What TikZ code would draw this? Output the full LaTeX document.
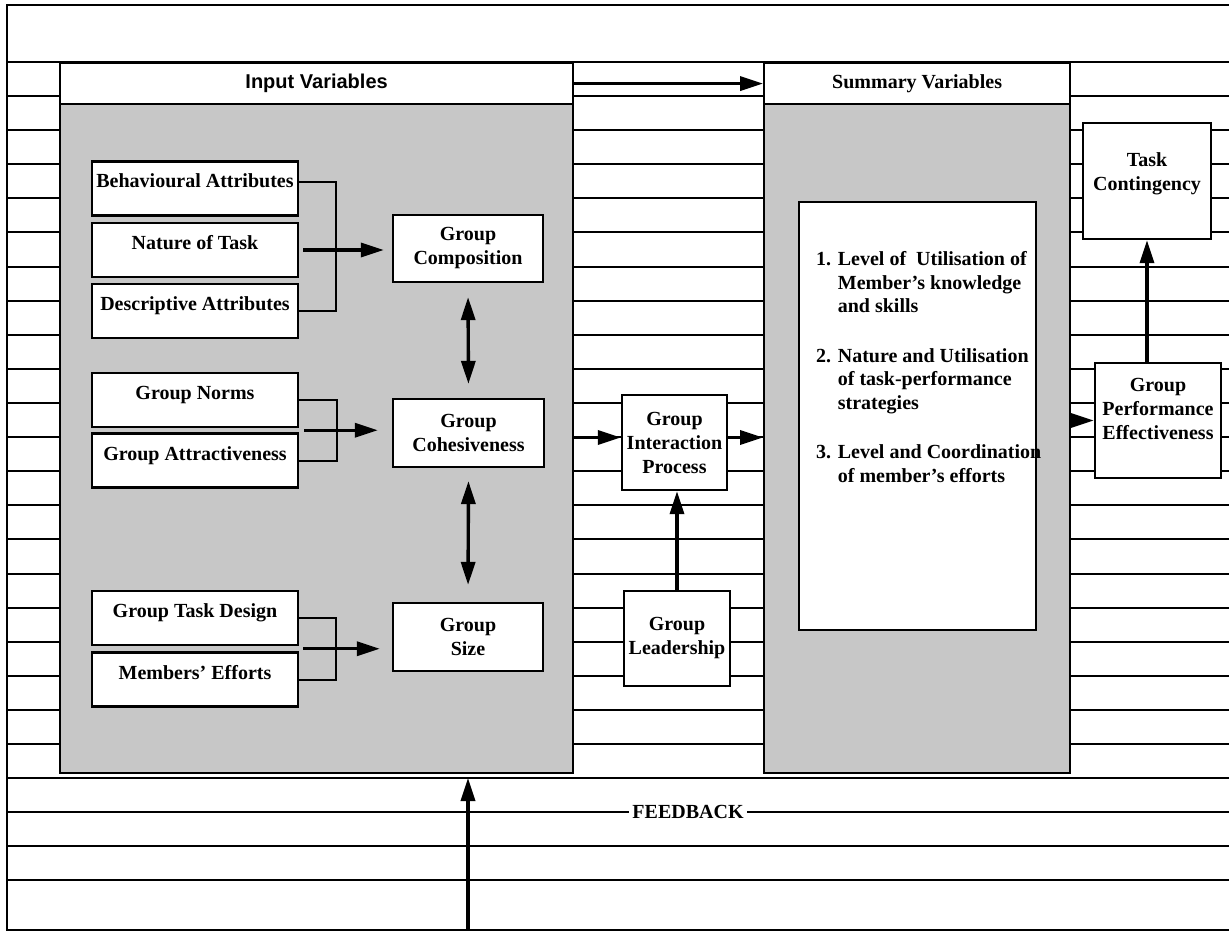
\documentclass[tikz,border=0pt]{standalone}
\usepackage{fontspec}
\setmainfont{Liberation Serif}
\setsansfont{Liberation Sans}
\usetikzlibrary{arrows.meta,calc,positioning}

\tikzset{
  rowline/.style={line width=2pt},
  outline/.style={line width=2.2pt},
  panel/.style={draw, line width=2.2pt, fill=black!22, anchor=north west, inner sep=0pt, minimum height=710pt},
  headbox/.style={draw, line width=2.2pt, fill=white, anchor=north west, inner sep=0pt, minimum height=41pt},
  attrbox/.style={draw, line width=2.2pt, fill=white, minimum width=206pt, minimum height=54pt,
    inner xsep=3pt, inner ysep=7pt, text height=19pt, text depth=20pt},
  varbox/.style={draw, line width=2.2pt, fill=white, align=center, inner sep=3pt},
  flowarrow/.style={line width=3.4pt, -{Triangle[length=23pt,width=14pt]}},
  twoway/.style={line width=3.4pt, {Triangle[length=23pt,width=14pt]}-{Triangle[length=23pt,width=14pt]}},
}

\begin{document}
\begin{tikzpicture}[x=1pt, y=-1pt, font=\fontsize{20}{24}\selectfont\bfseries]
\useasboundingbox (0,0) rectangle (1229,933);

% ruled background
\draw[outline] (1229,5) -- (7,5) -- (7,930) -- (1229,930);
\draw[outline] (7,62) -- (1229,62);
\foreach \k in {1,...,20}{
  \pgfmathsetmacro{\yy}{62+34.1*\k}
  \draw[rowline] (7,\yy) -- (59,\yy);
  \draw[rowline] (572,\yy) -- (763,\yy);
  \draw[rowline] (1069,\yy) -- (1229,\yy);
}
\draw[line width=2.8pt] (7,778) -- (1229,778);
\foreach \k in {22,23,24}{
  \pgfmathsetmacro{\yy}{62+34.1*\k}
  \draw[rowline] (7,\yy) -- (1229,\yy);
}

% panels
\node[panel, minimum width=513pt] (inp) at (59,62) {};
\node[headbox, minimum width=513pt] (inhead) at (59,62) {\sffamily Input Variables};
\node[panel, minimum width=306pt] (sump) at (763,62) {};
\node[headbox, minimum width=306pt] (sumhead) at (763,62) {Summary Variables};

% input variables
\node[attrbox] (beh) at (195,188.5) {Behavioural Attributes};
\node[attrbox] (nat) at (195,250) {Nature of Task};
\node[attrbox] (des) at (195,311) {Descriptive Attributes};
\node[attrbox] (norms) at (195,400) {Group Norms};
\node[attrbox] (attr) at (195,460.5) {Group Attractiveness};
\node[attrbox] (tdes) at (195,618) {Group Task Design};
\node[attrbox] (eff) at (195,679.5) {Members' Efforts};

\node[varbox, minimum width=150pt, minimum height=67pt] (comp) at (468,248.5) {Group\\Composition};
\node[varbox, minimum width=151pt, minimum height=68pt] (coh) at (468.5,433) {Group\\Cohesiveness};
\node[varbox, minimum width=150pt, minimum height=68pt] (size) at (468,637) {Group\\Size};

% process
\node[varbox, minimum width=105pt, minimum height=95pt] (gip) at (674.5,442.5) {Group\\Interaction\\Process};
\node[varbox, minimum width=106pt, minimum height=95pt] (lead) at (677,638.5) {Group\\Leadership};

% summary
\node[draw, line width=2.2pt, fill=white, minimum width=237pt, minimum height=428pt] (list) at (917.5,416) {};
\node[anchor=base west, inner sep=0pt, font=\fontsize{20}{23.5}\selectfont\bfseries] (items) at (816,266) {%
  \begin{tabular}[t]{@{}l@{ }l@{}}
  1. & Level of\ \ Utilisation of\\
     & Member's knowledge\\
     & and skills\\[26pt]
  2. & Nature and Utilisation\\
     & of task-performance\\
     & strategies\\[26pt]
  3. & Level and Coordination\\
     & of member's efforts
  \end{tabular}};

% outcome
\node[varbox, minimum width=128pt, minimum height=116pt] (tc) at (1147,181) {Task\\Contingency\\[-6pt]\mbox{}};
\node[varbox, minimum width=126pt, minimum height=115pt] (gpe) at (1158,420.5) {Group\\Performance\\Effectiveness\\\mbox{}};

\node[fill=white, inner xsep=3pt, inner ysep=1pt] (fb) at (688,812) {FEEDBACK};

% brackets
\draw[rowline] ([yshift=6pt]beh.east) -- ++(37,0) |- (des.east);
\draw[rowline] (norms.east) -- ++(38,0) |- (attr.east);
\draw[rowline] (tdes.east) -- ++(37,0) |- (eff.east);
\coordinate (j2) at ($(norms.east)!.5!(attr.east)$);
\coordinate (j3) at ($(tdes.east)!.5!(eff.east)$);

\draw[flowarrow, shorten <=4pt, shorten >=8pt] (nat.east) -- (nat.east -| comp.west);
\draw[flowarrow, shorten <=5pt, shorten >=14pt] (j2) -- (j2 -| coh.west);
\draw[flowarrow, shorten <=4pt, shorten >=12pt] (j3) -- (j3 -| size.west);
\draw[twoway, shorten <=14pt, shorten >=14pt] (comp.south) -- (coh.north);
\draw[twoway, shorten <=13pt, shorten >=17pt] (coh.south) -- (size.north);

% flow between panels
\coordinate (gipin) at ([yshift=5pt]gip.west);
\coordinate (gipout) at ([yshift=5pt]gip.east);
\draw[flowarrow] (inhead.east) -- (sumhead.west);
\draw[flowarrow] (gipin -| inp.east) -- (gipin);
\draw[flowarrow] (gipout) -- (gipout -| sump.west);
\draw[flowarrow] (lead.north) -- (lead.north |- gip.south);
\draw[flowarrow] (gpe.west -| sump.east) -- (gpe.west);
\draw[flowarrow] (gpe.north -| tc.south) -- (tc.south);

% feedback
\coordinate (fbstart) at (468,930);
\coordinate (fbend) at (468,778);
\draw[flowarrow] (fbstart) -- (fbend);
\end{tikzpicture}
\end{document}
